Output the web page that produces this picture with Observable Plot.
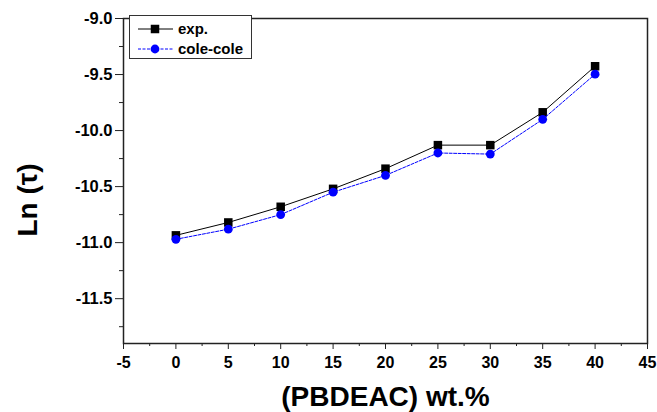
<!DOCTYPE html>
<html><head><meta charset="utf-8">
<script src="https://cdn.jsdelivr.net/npm/d3@7"></script>
<script src="https://cdn.jsdelivr.net/npm/@observablehq/plot@0.6"></script>
<style>
body{margin:0;background:#fff;font-family:"Liberation Sans",Arial,sans-serif;}
#wrap{position:relative;width:657px;height:412px;}
#legend{position:absolute;left:129px;top:15px;}
</style></head><body><div id="wrap"></div>
<script>
const wt = [0, 5, 10, 15, 20, 25, 30, 35, 40];
const expVals = [-10.935, -10.82, -10.68, -10.52, -10.34, -10.13, -10.13, -9.837, -9.426];
const coleVals = [-10.97, -10.88, -10.75, -10.55, -10.40, -10.20, -10.21, -9.90, -9.497];
const xTicks = [-5, 0, 5, 10, 15, 20, 25, 30, 35, 40, 45];
const xMinor = [-2.5, 2.5, 7.5, 12.5, 17.5, 22.5, 27.5, 32.5, 37.5, 42.5];
const yTicks = [-11.5, -11.0, -10.5, -10.0, -9.5, -9.0];
const yMinor = [-11.75, -11.25, -10.75, -10.25, -9.75, -9.25];
const seriesNames = ["exp.", "cole-cole"];
const xLabel = "(PBDEAC) wt.%";
const yLabel = "Ln (\u03c4)";

const expData = wt.map((x, i) => ({x, y: expVals[i]}));
const coleData = wt.map((x, i) => ({x, y: coleVals[i]}));
const font = "'Liberation Sans', Arial, sans-serif";

const chart = Plot.plot({
  width: 657, height: 412,
  marginLeft: 123, marginRight: 10, marginTop: 18, marginBottom: 69,
  style: {fontFamily: font, background: "#fff", color: "#000"},
  x: {domain: [-5, 45]},
  y: {domain: [-11.9, -9.0]},
  marks: [
    Plot.axisX({ticks: xTicks, tickSize: 6, tickPadding: 7, fontSize: 16, fontWeight: "bold", label: null, tickFormat: d => String(d), stroke: "#222"}),
    Plot.axisX({ticks: xMinor, tickSize: 3, text: null, label: null, stroke: "#222"}),
    Plot.axisY({ticks: yTicks, tickSize: 8, tickPadding: 3, fontSize: 16.5, fontWeight: "bold", label: null, tickFormat: d => d.toFixed(1), stroke: "#222"}),
    Plot.axisY({ticks: yMinor, tickSize: 4, text: null, label: null, stroke: "#222"}),
    Plot.frame({stroke: "#222", strokeWidth: 1.5}),
    Plot.line(expData, {x: "x", y: "y", stroke: "#000", strokeWidth: 1}),
    Plot.dot(expData, {x: "x", y: "y", symbol: "square", r: 4.8, fill: "#000", stroke: "none"}),
    Plot.line(coleData, {x: "x", y: "y", stroke: "#0000ff", strokeWidth: 1, strokeDasharray: "3,1.5"}),
    Plot.dot(coleData, {x: "x", y: "y", symbol: "circle", r: 4.4, fill: "#0000ff", stroke: "none"}),
    Plot.text([xLabel], {text: d => d, frameAnchor: "bottom", dy: 54, fontSize: 28, fontWeight: "bold", lineAnchor: "middle", textAnchor: "middle"}),
    Plot.text([yLabel], {text: d => d, frameAnchor: "left", dx: -95, dy: 19, rotate: -90, fontSize: 28, fontWeight: "bold", lineAnchor: "middle", textAnchor: "middle"})
  ]
});
const wrap = document.getElementById("wrap");
wrap.appendChild(chart);

// legend
const lg = d3.select(wrap).append("div").attr("id", "legend")
  .append("svg").attr("width", 124).attr("height", 45);
lg.append("rect").attr("x", 0.5).attr("y", 0.5).attr("width", 122).attr("height", 43)
  .attr("fill", "#fff").attr("stroke", "#333").attr("stroke-width", 1);
const sym = [
  {stroke: "#000", dash: null, shape: "square", fill: "#000"},
  {stroke: "#0000ff", dash: "3,1.5", shape: "circle", fill: "#0000ff"}
];
seriesNames.forEach((name, i) => {
  const cy = 14 + i * 20;
  const g = lg.append("g");
  g.append("line").attr("x1", 9).attr("x2", 44).attr("y1", cy).attr("y2", cy)
    .attr("stroke", sym[i].stroke).attr("stroke-width", 1).attr("stroke-dasharray", sym[i].dash);
  if (sym[i].shape === "square") g.append("rect").attr("x", 26 - 4.25).attr("y", cy - 4.25).attr("width", 8.5).attr("height", 8.5).attr("fill", sym[i].fill);
  else g.append("circle").attr("cx", 26).attr("cy", cy).attr("r", 4.4).attr("fill", sym[i].fill);
  g.append("text").attr("x", 49).attr("y", cy).attr("dy", "0.35em")
    .attr("font-family", font).attr("font-size", 15).attr("font-weight", "bold").text(name);
});
</script></body></html>
